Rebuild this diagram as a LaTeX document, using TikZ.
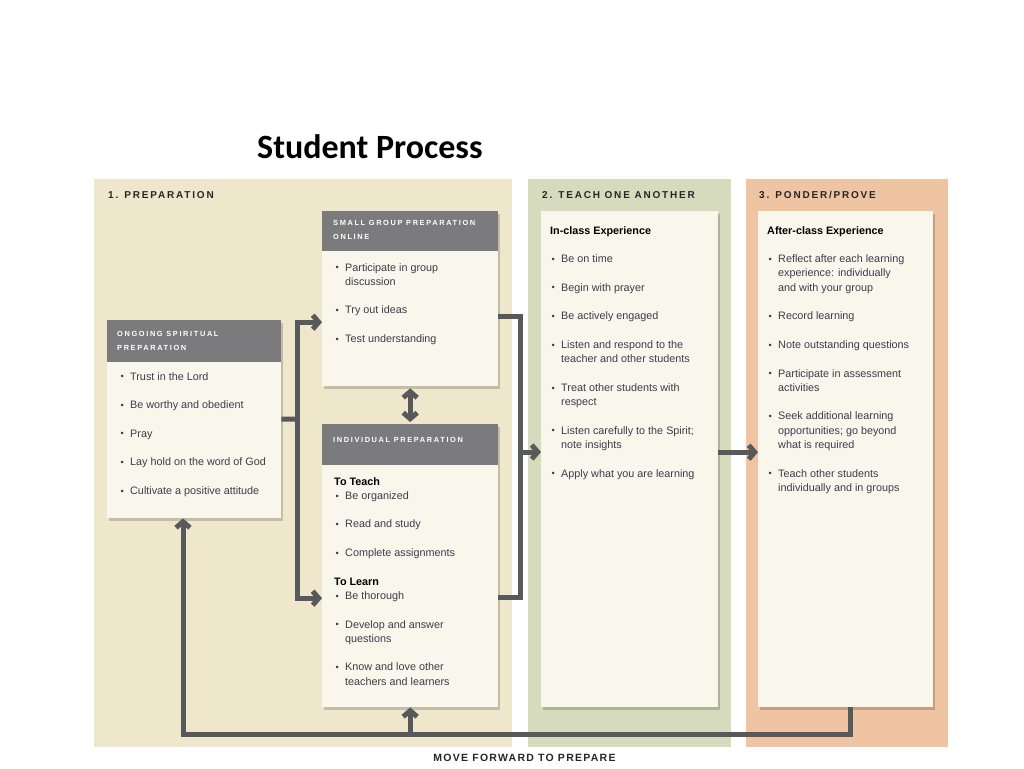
\documentclass[tikz,border=0pt]{standalone}
\usepackage{fontspec}
\setmainfont{Liberation Sans}
\newfontfamily\titlefont{Carlito}
\newfontfamily\capsfont[LetterSpace=18]{Liberation Sans}
\newfontfamily\footfont[LetterSpace=12]{Liberation Sans}
\newfontfamily\hdfont[LetterSpace=22]{Liberation Sans}
\usetikzlibrary{arrows.meta,shadows,calc}
\definecolor{pA}{HTML}{EFE7CC}
\definecolor{pB}{HTML}{D6DBBD}
\definecolor{pC}{HTML}{EEC4A3}
\definecolor{boxbg}{HTML}{F9F6EC}
\definecolor{hdrgray}{HTML}{7B7B7E}
\definecolor{arr}{HTML}{58595B}
\definecolor{txt}{HTML}{3C3C4C}
\newcommand{\BL}{\makebox[11pt][l]{\hspace{1.5pt}\raisebox{0.3pt}{\scalebox{0.85}{\textbullet}}}}
\newcommand{\IN}{\hspace*{11pt}}
\tikzset{
  panel/.style={inner sep=0pt, anchor=north west},
  card/.style={fill=boxbg, inner sep=0pt, anchor=north west,
    drop shadow={shadow xshift=2pt, shadow yshift=-3pt, opacity=0.18, fill=black}},
  hdr/.style={fill=hdrgray, inner sep=0pt, anchor=north west},
  hdrtxt/.style={text=white, font=\hdfont\bfseries\fontsize{7.4}{14}\selectfont, align=left, anchor=north west, inner sep=0pt},
  body/.style={text=txt, font=\fontsize{10.8}{14.3}\selectfont, align=left, anchor=north west, inner sep=0pt},
  ptitle/.style={text=black!85, font=\capsfont\bfseries\fontsize{10}{12}\selectfont, anchor=base west, inner sep=0pt},
  conn/.style={draw=arr, line width=5pt},
  arw/.style={conn, -{Straight Barb[length=6pt,width=14pt]}},
  darw/.style={conn, {Straight Barb[length=6pt,width=14pt]}-{Straight Barb[length=6pt,width=14pt]}}
}
\begin{document}
\begin{tikzpicture}[x=1pt,y=-1pt]
\useasboundingbox[fill=white] (0,0) rectangle (1024,768);
% title
\node[font=\titlefont\bfseries\fontsize{34}{40}\selectfont, anchor=base west, inner sep=0pt] (title) at (257,158) {Student Process};
% panels
\node[panel, fill=pA, minimum width=418pt, minimum height=568pt] (P1) at (94,179) {};
\node[panel, fill=pB, minimum width=203pt, minimum height=568pt] (P2) at (528,179) {};
\node[panel, fill=pC, minimum width=202pt, minimum height=568pt] (P3) at (746,179) {};
\node[ptitle] (P1t) at (108,198) {1. PREPARATION};
\node[ptitle] (P2t) at (542,198) {2. TEACH ONE ANOTHER};
\node[ptitle] (P3t) at (759,198) {3. PONDER/PROVE};
% cards
\node[card, minimum width=174pt, minimum height=198pt] (osp) at (107,320) {};
\node[hdr, minimum width=174pt, minimum height=42pt] (ospH) at (osp.north west) {};
\node[hdrtxt] (ospHT) at (117,331) {ONGOING SPIRITUAL\\PREPARATION};
\node[card, minimum width=176pt, minimum height=175pt] (sg) at (322,211) {};
\node[hdr, minimum width=176pt, minimum height=40pt] (sgH) at (sg.north west) {};
\node[hdrtxt] (sgHT) at (333,220) {SMALL GROUP PREPARATION\\ONLINE};
\node[card, minimum width=176pt, minimum height=283pt] (ind) at (322,424) {};
\node[hdr, minimum width=176pt, minimum height=41pt] (indH) at (ind.north west) {};
\node[hdrtxt] (indHT) at (333,437) {INDIVIDUAL PREPARATION};
\node[card, minimum width=177pt, minimum height=496pt] (ic) at (541,211) {};
\node[card, minimum width=175pt, minimum height=496pt] (ac) at (758,211) {};
% body texts
\node[body] (ospT) at (119,372) {\BL Trust in the Lord\\[14.3pt]\BL Be worthy and obedient\\[14.3pt]\BL Pray\\[14.3pt]\BL Lay hold on the word of God\\[14.3pt]\BL Cultivate a positive attitude};
\node[body] (sgT) at (334,263) {\BL Participate in group\\\IN discussion\\[14.3pt]\BL Try out ideas\\[14.3pt]\BL Test understanding};
\node[body] (indT) at (334,477) {\textbf{\color{black}To Teach}\\\BL Be organized\\[14.3pt]\BL Read and study\\[14.3pt]\BL Complete assignments\\[14.3pt]\textbf{\color{black}To Learn}\\\BL Be thorough\\[14.3pt]\BL Develop and answer\\\IN questions\\[14.3pt]\BL Know and love other\\\IN teachers and learners};
\node[body] (icT) at (550,226) {\textbf{\color{black}In-class Experience}\\[14.3pt]\BL Be on time\\[14.3pt]\BL Begin with prayer\\[14.3pt]\BL Be actively engaged\\[14.3pt]\BL Listen and respond to the\\\IN teacher and other students\\[14.3pt]\BL Treat other students with\\\IN respect\\[14.3pt]\BL Listen carefully to the Spirit;\\\IN note insights\\[14.3pt]\BL Apply what you are learning};
\node[body] (acT) at (767,226) {\textbf{\color{black}After-class Experience}\\[14.3pt]\BL Reflect after each learning\\\IN experience: individually\\\IN and with your group\\[14.3pt]\BL Record learning\\[14.3pt]\BL Note outstanding questions\\[14.3pt]\BL Participate in assessment\\\IN activities\\[14.3pt]\BL Seek additional learning\\\IN opportunities; go beyond\\\IN what is required\\[14.3pt]\BL Teach other students\\\IN individually and in groups};
% footer
\node[font=\footfont\bfseries\fontsize{10.5}{12}\selectfont, text=black!85, anchor=base, inner sep=0pt] (mf) at (524.5,761.5) {MOVE FORWARD TO PREPARE};
% connectors
\coordinate (jl) at (297,419);
\coordinate (jr) at (520,452);
\coordinate (lb) at (183,734.5);
\coordinate (rb) at (850.5,734.5);
\draw[conn] (osp.east) -- (jl);
\draw[arw] (jl) |- ([yshift=-23.5pt]sg.west);
\draw[arw] (jl) |- ([yshift=-32.5pt]ind.west);
\draw[darw, shorten >=2pt, shorten <=2pt] (sg.south) -- (ind.north);
\draw[conn] ([yshift=-17.5pt]sg.east) -| (jr);
\draw[conn] ([yshift=-31.5pt]ind.east) -| (jr);
\draw[arw] (jr) -- (ic.west |- jr);
\draw[arw] ([yshift=7pt]ic.east) -- ([yshift=7pt]ac.west);
\draw[arw] (ac.south -| rb) -- (rb) -- (lb) -- (osp.south -| lb);
\draw[arw] (ind.south |- lb) -- (ind.south);
\end{tikzpicture}
\end{document}
